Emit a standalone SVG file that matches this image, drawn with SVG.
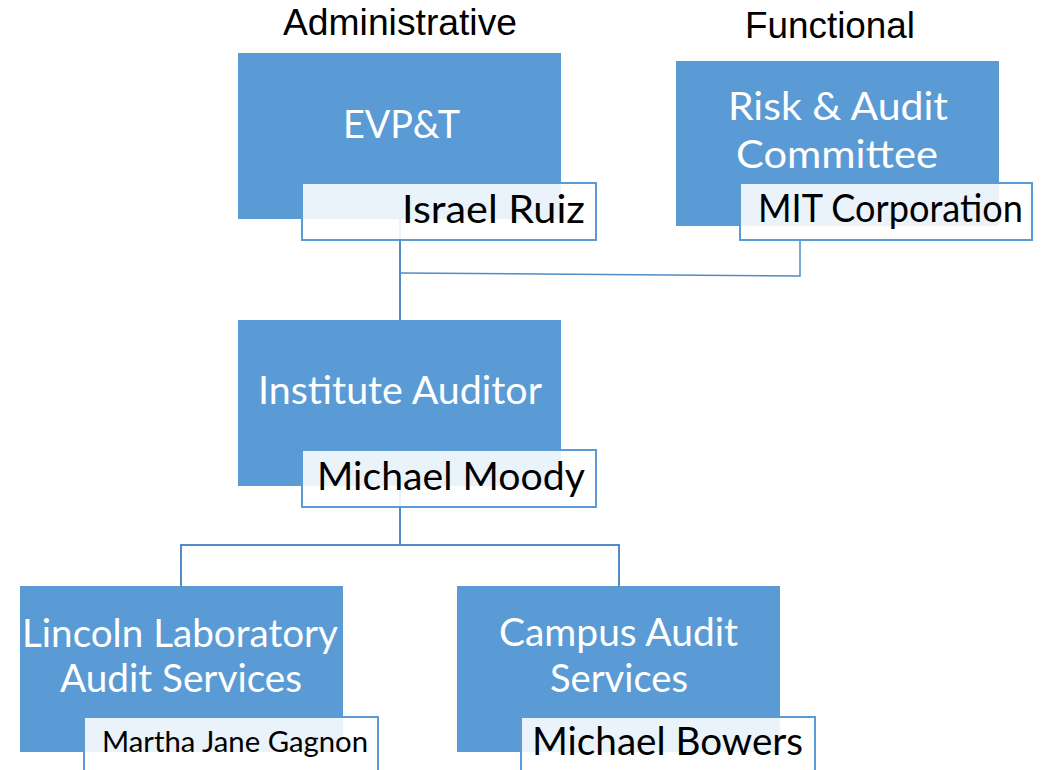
<svg xmlns="http://www.w3.org/2000/svg" width="1043" height="770" viewBox="0 0 1043 770">
<style>
.box{fill:#5B9BD5;}
.name{fill:#FFFFFF;fill-opacity:0.88;stroke:#5B9BD5;stroke-width:2;}
.t{font-family:Lato,"Open Sans",sans-serif;fill:#FFFFFF;font-size:39px;}
.n{font-family:Lato,"Open Sans",sans-serif;fill:#000000;font-size:39px;}
.h{font-family:"Liberation Sans",Arial,sans-serif;fill:#000000;font-size:37px;}
.c{stroke:#4F8CC9;stroke-width:2;fill:none;}
</style>
<rect width="1043" height="770" fill="#FFFFFF"/>
<text class="h" x="283" y="35" textLength="234" lengthAdjust="spacingAndGlyphs">Administrative</text>
<text class="h" x="745" y="38" textLength="170" lengthAdjust="spacingAndGlyphs">Functional</text>
<g id="connectors">
<line class="c" x1="400" y1="219" x2="400" y2="320"/>
<polyline class="c" style="stroke-width:1.5" points="400,273 800,276 800,241"/>
<line class="c" x1="400" y1="486" x2="400" y2="545"/>
<polyline class="c" points="181,587 181,545 619,545 619,587"/>
</g>
<g id="evpt">
<rect class="box" x="238" y="53" width="323" height="166"/>
<text class="t" x="343" y="138" textLength="117" lengthAdjust="spacingAndGlyphs">EVP&amp;T</text>
<rect class="name" x="302" y="183" width="294" height="57"/>
<text class="n" x="402" y="223" textLength="183" lengthAdjust="spacingAndGlyphs">Israel Ruiz</text>
</g>
<g id="risk-audit">
<rect class="box" x="676" y="61" width="323" height="165"/>
<text class="t" x="728" y="120" textLength="220" lengthAdjust="spacingAndGlyphs">Risk &amp; Audit</text>
<text class="t" x="736" y="168" textLength="202" lengthAdjust="spacingAndGlyphs">Committee</text>
<rect class="name" x="740" y="183" width="292" height="57"/>
<text class="n" x="758" y="222" textLength="265" lengthAdjust="spacingAndGlyphs">MIT Corporation</text>
</g>
<g id="institute-auditor">
<rect class="box" x="238" y="320" width="323" height="166"/>
<text class="t" x="258" y="404" textLength="284" lengthAdjust="spacingAndGlyphs">Institute Auditor</text>
<rect class="name" x="302" y="450" width="294" height="57"/>
<text class="n" x="317" y="490" textLength="268" lengthAdjust="spacingAndGlyphs">Michael Moody</text>
</g>
<g id="lincoln">
<rect class="box" x="20" y="586" width="323" height="166"/>
<text class="t" x="22" y="647" textLength="316" lengthAdjust="spacingAndGlyphs">Lincoln Laboratory</text>
<text class="t" x="60" y="692" textLength="242" lengthAdjust="spacingAndGlyphs">Audit Services</text>
<rect class="name" x="84" y="717" width="294" height="60"/>
<text class="n" x="102" y="752" style="font-size:28px" textLength="266" lengthAdjust="spacingAndGlyphs">Martha Jane Gagnon</text>
</g>
<g id="campus">
<rect class="box" x="457" y="586" width="323" height="166"/>
<text class="t" x="499" y="646" textLength="239" lengthAdjust="spacingAndGlyphs">Campus Audit</text>
<text class="t" x="550" y="692" textLength="138" lengthAdjust="spacingAndGlyphs">Services</text>
<rect class="name" x="521" y="717" width="294" height="60"/>
<text class="n" x="532" y="755" textLength="271" lengthAdjust="spacingAndGlyphs">Michael Bowers</text>
</g>
</svg>
